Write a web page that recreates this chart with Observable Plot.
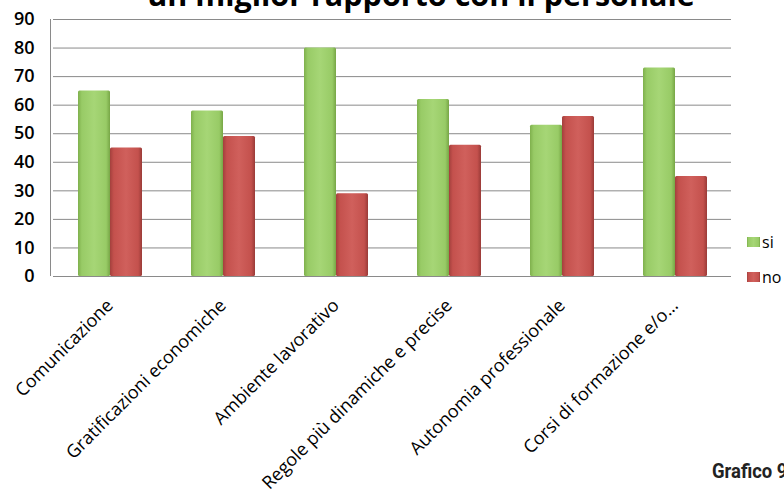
<!DOCTYPE html>
<html>
<head>
<meta charset="utf-8">
<script src="https://cdn.jsdelivr.net/npm/d3@7"></script>
<script src="https://cdn.jsdelivr.net/npm/@observablehq/plot@0.6"></script>
<style>
  html, body { margin: 0; padding: 0; background: #fff; }
  #wrap { position: relative; width: 784px; height: 489px; overflow: hidden; font-family: "Open Sans", sans-serif; }
  #wrap svg.ov { position: absolute; left: 0; top: 0; pointer-events: none; }
</style>
</head>
<body>
<div id="wrap"></div>
<script>
const titleText = "un miglior rapporto con il personale";
const captionText = "Grafico 9";
const categories = [
  "Comunicazione",
  "Gratificazioni economiche",
  "Ambiente lavorativo",
  "Regole più dinamiche e precise",
  "Autonomia professionale",
  "Corsi di formazione e/o…"
];
const series = ["si", "no"];
const siValues = [65, 58, 80, 62, 53, 73];
const noValues = [45, 49, 29, 46, 56, 35];
const yTicks = [0, 10, 20, 30, 40, 50, 60, 70, 80, 90];

const data = [];
categories.forEach((c, i) => {
  data.push({cat: c, series: "si", value: siValues[i]});
  data.push({cat: c, series: "no", value: noValues[i]});
});

const fills = ["url(#gradSi)", "url(#gradNo)"];

const chart = Plot.plot({
  width: 784,
  height: 489,
  marginLeft: 50,
  marginRight: 51,
  marginTop: 19,
  marginBottom: 213,
  style: {fontFamily: "Open Sans, sans-serif", background: "transparent"},
  fx: {domain: categories, padding: 0, label: null},
  x: {domain: series, paddingInner: 0, paddingOuter: 0.72, axis: null},
  y: {domain: [0, 90], label: null},
  color: {domain: series, range: fills},
  marks: [
    Plot.ruleY(yTicks, {stroke: "#8a8a8a", strokeWidth: 1}),
    Plot.barY(data, {fx: "cat", x: "series", y: "value", fill: "series", rx: 1.5}),
    Plot.axisY({ticks: yTicks, tickSize: 0, tickPadding: 19, fontSize: 18, fontWeight: 600, label: null}),
    Plot.axisFx({anchor: "bottom", tickRotate: -45, tickSize: 0, tickPadding: 26, fontSize: 18, label: null})
  ]
});

const wrap = document.getElementById("wrap");
wrap.appendChild(chart);

const ys = chart.scale("y");
const ov = d3.select(wrap).append("svg").attr("class", "ov").attr("width", 784).attr("height", 489);
const defs = ov.append("defs");
function grad(id, stops) {
  const g = defs.append("linearGradient").attr("id", id).attr("x1", 0).attr("x2", 1).attr("y1", 0).attr("y2", 0);
  stops.forEach(([o, c]) => g.append("stop").attr("offset", o).attr("stop-color", c));
}
grad("gradSi", [[0, "#7fb04d"], [0.12, "#98cb66"], [0.5, "#a6d676"], [0.88, "#98cb66"], [1, "#77a646"]]);
grad("gradNo", [[0, "#a3403d"], [0.12, "#c4514d"], [0.5, "#d0605c"], [0.88, "#c4514d"], [1, "#9a3b38"]]);

// left axis line
const yr = ys.range;
ov.append("line").attr("x1", 50.5).attr("x2", 50.5).attr("y1", yr[1]).attr("y2", yr[0])
  .attr("stroke", "#8a8a8a").attr("stroke-width", 1);

// title (cut at top as in reference)
ov.append("text").attr("x", 421).attr("y", 5.5).attr("text-anchor", "middle")
  .attr("font-family", "Open Sans, sans-serif").attr("font-weight", 700).attr("font-size", 30.5)
  .attr("fill", "#000").text(titleText);

// legend
const legendY = [242, 277];
series.forEach((s, i) => {
  ov.append("rect").attr("x", 747).attr("y", legendY[i] - 5).attr("width", 13).attr("height", 10)
    .attr("fill", fills[i]);
  ov.append("text").attr("x", 762).attr("y", legendY[i]).attr("dy", "0.35em")
    .attr("font-family", "Open Sans, sans-serif").attr("font-size", 16).attr("fill", "#000").text(s);
});

// caption
ov.append("text").attr("transform", "translate(712,478) scale(0.88,1)")
  .attr("font-family", "Roboto, sans-serif").attr("font-weight", 700)
  .attr("font-size", 21).attr("fill", "#222").text(captionText);
</script>
</body>
</html>
